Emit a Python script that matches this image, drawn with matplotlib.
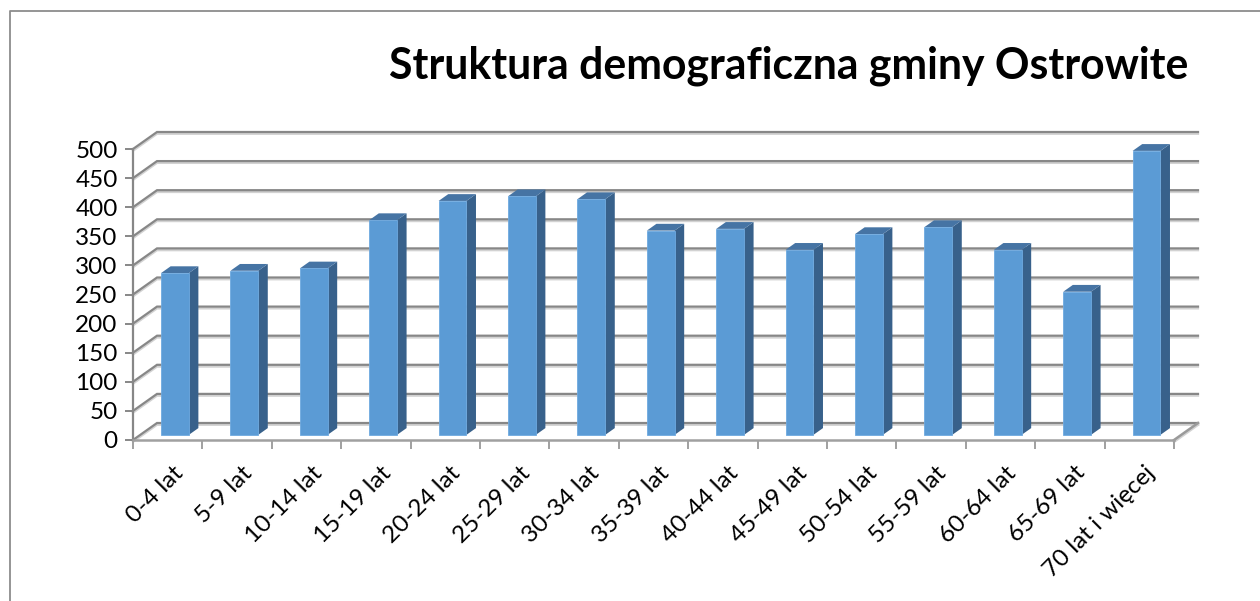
import matplotlib
matplotlib.use('Agg')
import matplotlib.pyplot as plt
from matplotlib.patches import Polygon
from matplotlib.lines import Line2D
import matplotlib.patheffects as pe

categories = ['0-4 lat', '5-9 lat', '10-14 lat', '15-19 lat', '20-24 lat',
              '25-29 lat', '30-34 lat', '35-39 lat', '40-44 lat', '45-49 lat',
              '50-54 lat', '55-59 lat', '60-64 lat', '65-69 lat', '70 lat i więcej']
values = [278, 282, 286, 369, 402, 410, 405, 351, 354, 318, 345, 357, 318, 246, 488]
yticks = list(range(0, 501, 50))
title = 'Struktura demograficzna gminy Ostrowite'

plt.rcParams['font.family'] = ['Lato', 'DejaVu Sans']

W, H = 1260, 601
fig = plt.figure(figsize=(W / 100, H / 100), dpi=100)
fig.patch.set_facecolor('white')

# front plane of the 3D box
ax = fig.add_axes([133 / W, 1 - 440 / H, (1174 - 133) / W, (440 - 149) / H])
n = len(categories)
ax.set_xlim(0, n)
ax.set_ylim(0, 500)
ax.set_facecolor('none')

# oblique depth vector (data units per full depth)
DX = 24 / 69.4
DY = 17 / 0.582


def proj(x, v, d):
    return (x + d * DX, v + d * DY)


GRID = '#878787'
shadow = [pe.SimpleLineShadow(offset=(0, -1.3), shadow_color='#d2d2d2', alpha=1.0), pe.Normal()]

# walls gridlines
for v in yticks:
    pts = [proj(0, v, 0), proj(0, v, 1), proj(n, v, 1)]
    ax.plot([p[0] for p in pts], [p[1] for p in pts], color=GRID, lw=1.6,
            solid_joinstyle='miter', clip_on=False, zorder=1, path_effects=shadow)

# floor right edge
pts = [proj(n, 0, 0), proj(n, 0, 1)]
ax.plot([p[0] for p in pts], [p[1] for p in pts], color='#9a9a9a', lw=1.8,
        clip_on=False, zorder=1, path_effects=shadow)

# bars
FRONT, SIDE, TOP = '#5B9BD5', '#38618B', '#4674A4'
bw = 0.4
d0, d1 = 0.3, 0.7
for i, v in enumerate(values):
    c = i + 0.5
    x0, x1 = c - bw / 2, c + bw / 2
    front = [proj(x0, 0, d0), proj(x1, 0, d0), proj(x1, v, d0), proj(x0, v, d0)]
    side = [proj(x1, 0, d0), proj(x1, 0, d1), proj(x1, v, d1), proj(x1, v, d0)]
    top = [proj(x0, v, d0), proj(x1, v, d0), proj(x1, v, d1), proj(x0, v, d1)]
    ax.add_patch(Polygon(side, closed=True, facecolor=SIDE, edgecolor='none', zorder=3, clip_on=False))
    ax.add_patch(Polygon(top, closed=True, facecolor=TOP, edgecolor='none', zorder=3, clip_on=False))
    ax.add_patch(Polygon(front, closed=True, facecolor=FRONT, edgecolor='#6FAAE0', lw=0.6,
                         zorder=4, clip_on=False))

# spines
for s in ['top', 'right']:
    ax.spines[s].set_visible(False)
ax.spines['left'].set_color(GRID)
ax.spines['left'].set_linewidth(1.6)
ax.spines['bottom'].set_color('#a0a0a0')
ax.spines['bottom'].set_linewidth(1.8)
ax.spines['left'].set_zorder(2)
ax.spines['bottom'].set_zorder(2)

ax.set_yticks(yticks)
ax.set_yticklabels([str(t) for t in yticks])
ax.tick_params(axis='y', direction='out', length=6, width=1.4, color=GRID,
               labelsize=17.5, pad=5, labelcolor='black')

ax.set_xticks(range(n + 1))
ax.set_xticklabels([''] * (n + 1))
ax.tick_params(axis='x', which='major', direction='out', length=6.5, width=1.4, color='#a0a0a0')
ax.set_xticks([i + 0.565 for i in range(n)], minor=True)
ax.set_xticklabels(categories, minor=True, rotation=45, ha='right', va='top',
                   rotation_mode='anchor', fontsize=17.5)
ax.tick_params(axis='x', which='minor', length=0, pad=16)

# title
fig.text(789 / W, 1 - 78 / H, title, ha='center', va='baseline',
         fontsize=30.8, fontweight='bold', color='black')

# outer chart frame (partially visible)
fig.add_artist(Line2D([10 / W, 10 / W, 1.0], [0.0, 1 - 11 / H, 1 - 11 / H],
                      transform=fig.transFigure, color='#8c8c8c', lw=1.3))

fig.savefig('out.png', dpi=100, facecolor='white')
